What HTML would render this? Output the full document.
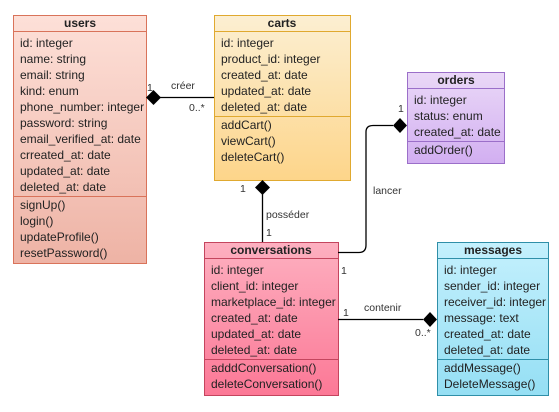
<!DOCTYPE html>
<html><head><meta charset="utf-8"><style>
body{margin:0;background:#fff;width:559px;height:407px;overflow:hidden}
svg text{font-family:"Liberation Sans",sans-serif;font-size:12px;fill:#222}
.h{font-weight:bold;text-anchor:middle}
.s{font-size:10.5px;fill:#333}
</style></head><body>
<svg width="559" height="407" viewBox="0 0 559 407" xmlns="http://www.w3.org/2000/svg">
<defs>
<linearGradient id="gu" x1="0" y1="0" x2="0" y2="1"><stop offset="0" stop-color="#fde0d8"/><stop offset="1" stop-color="#eeb3a5"/></linearGradient>
<linearGradient id="gc" x1="0" y1="0" x2="0" y2="1"><stop offset="0" stop-color="#fcefd2"/><stop offset="1" stop-color="#fdd58a"/></linearGradient>
<linearGradient id="go" x1="0" y1="0" x2="0" y2="1"><stop offset="0" stop-color="#ead8f7"/><stop offset="1" stop-color="#d2aff1"/></linearGradient>
<linearGradient id="gv" x1="0" y1="0" x2="0" y2="1"><stop offset="0" stop-color="#fdb0c0"/><stop offset="1" stop-color="#fc7896"/></linearGradient>
<linearGradient id="gm" x1="0" y1="0" x2="0" y2="1"><stop offset="0" stop-color="#c4f0fd"/><stop offset="1" stop-color="#95dff4"/></linearGradient>
</defs>
<!-- users -->
<rect x="13.5" y="15.5" width="133" height="248" fill="url(#gu)" stroke="#d9735a"/>
<line x1="13.5" y1="31.5" x2="146.5" y2="31.5" stroke="#d9735a"/>
<line x1="13.5" y1="196.5" x2="146.5" y2="196.5" stroke="#d9735a"/>
<text class="h" x="80" y="27">users</text>
<text x="20" y="47">id: integer</text><text x="20" y="63">name: string</text><text x="20" y="79">email: string</text><text x="20" y="95">kind: enum</text><text x="20" y="111">phone_number: integer</text><text x="20" y="127">password: string</text><text x="20" y="143">email_verified_at: date</text><text x="20" y="159">crreated_at: date</text><text x="20" y="175">updated_at: date</text><text x="20" y="191">deleted_at: date</text>
<text x="20" y="209">signUp()</text><text x="20" y="225">login()</text><text x="20" y="241">updateProfile()</text><text x="20" y="257">resetPassword()</text>
<!-- carts -->
<rect x="214.5" y="15.5" width="136" height="165" fill="url(#gc)" stroke="#e0a92f"/>
<line x1="214.5" y1="31.5" x2="350.5" y2="31.5" stroke="#e0a92f"/>
<line x1="214.5" y1="116.5" x2="350.5" y2="116.5" stroke="#e0a92f"/>
<text class="h" x="282" y="27">carts</text>
<text x="221" y="47">id: integer</text><text x="221" y="63">product_id: integer</text><text x="221" y="79">created_at: date</text><text x="221" y="95">updated_at: date</text><text x="221" y="111">deleted_at: date</text>
<text x="221" y="129">addCart()</text><text x="221" y="145">viewCart()</text><text x="221" y="161">deleteCart()</text>
<!-- orders -->
<rect x="407.5" y="72.5" width="97" height="91" fill="url(#go)" stroke="#9b6fc9"/>
<line x1="407.5" y1="88.5" x2="504.5" y2="88.5" stroke="#9b6fc9"/>
<line x1="407.5" y1="141.5" x2="504.5" y2="141.5" stroke="#9b6fc9"/>
<text class="h" x="456" y="84">orders</text>
<text x="414" y="104">id: integer</text><text x="414" y="120">status: enum</text><text x="414" y="136">created_at: date</text>
<text x="414" y="154">addOrder()</text>
<!-- conversations -->
<rect x="204.5" y="242.5" width="134" height="153" fill="url(#gv)" stroke="#c4455e"/>
<line x1="204.5" y1="258.5" x2="338.5" y2="258.5" stroke="#c4455e"/>
<line x1="204.5" y1="359.5" x2="338.5" y2="359.5" stroke="#c4455e"/>
<text class="h" x="271" y="254">conversations</text>
<text x="211" y="274">id: integer</text><text x="211" y="290">client_id: integer</text><text x="211" y="306">marketplace_id: integer</text><text x="211" y="322">created_at: date</text><text x="211" y="338">updated_at: date</text><text x="211" y="354">deleted_at: date</text>
<text x="211" y="372">adddConversation()</text><text x="211" y="388">deleteConversation()</text>
<!-- messages -->
<rect x="437.5" y="242.5" width="111" height="153" fill="url(#gm)" stroke="#2f8fa8"/>
<line x1="437.5" y1="258.5" x2="548.5" y2="258.5" stroke="#2f8fa8"/>
<line x1="437.5" y1="359.5" x2="548.5" y2="359.5" stroke="#2f8fa8"/>
<text class="h" x="493" y="254">messages</text>
<text x="444" y="274">id: integer</text><text x="444" y="290">sender_id: integer</text><text x="444" y="306">receiver_id: integer</text><text x="444" y="322">message: text</text><text x="444" y="338">created_at: date</text><text x="444" y="354">deleted_at: date</text>
<text x="444" y="372">addMessage()</text><text x="444" y="388">DeleteMessage()</text>
<!-- connectors -->
<g stroke="#000" stroke-width="1.3" fill="none">
<line x1="160" y1="97.5" x2="214" y2="97.5"/>
<line x1="262.5" y1="194" x2="262.5" y2="242"/>
<path d="M338 252.5 H359 Q366 252.5 366 245 V132 Q366 125.5 373 125.5 H393"/>
<line x1="338" y1="319.5" x2="423" y2="319.5"/>
</g>
<g fill="#000">
<polygon points="146,97.5 153.5,90 161,97.5 153.5,105"/>
<polygon points="262.5,180 270,187.5 262.5,195 255,187.5"/>
<polygon points="407,125.5 400,118 393,125.5 400,133"/>
<polygon points="437,319.5 430,312 423,319.5 430,327"/>
</g>
<text class="s" x="147" y="91">1</text><text class="s" x="171" y="89">créer</text><text class="s" x="189" y="111">0..*</text>
<text class="s" x="240" y="192">1</text><text class="s" x="266" y="218">posséder</text><text class="s" x="266" y="236">1</text>
<text class="s" x="398" y="112">1</text><text class="s" x="373" y="194">lancer</text><text class="s" x="341" y="274">1</text>
<text class="s" x="343" y="316">1</text><text class="s" x="364" y="311">contenir</text><text class="s" x="415" y="336">0..*</text>
</svg>
</body></html>
